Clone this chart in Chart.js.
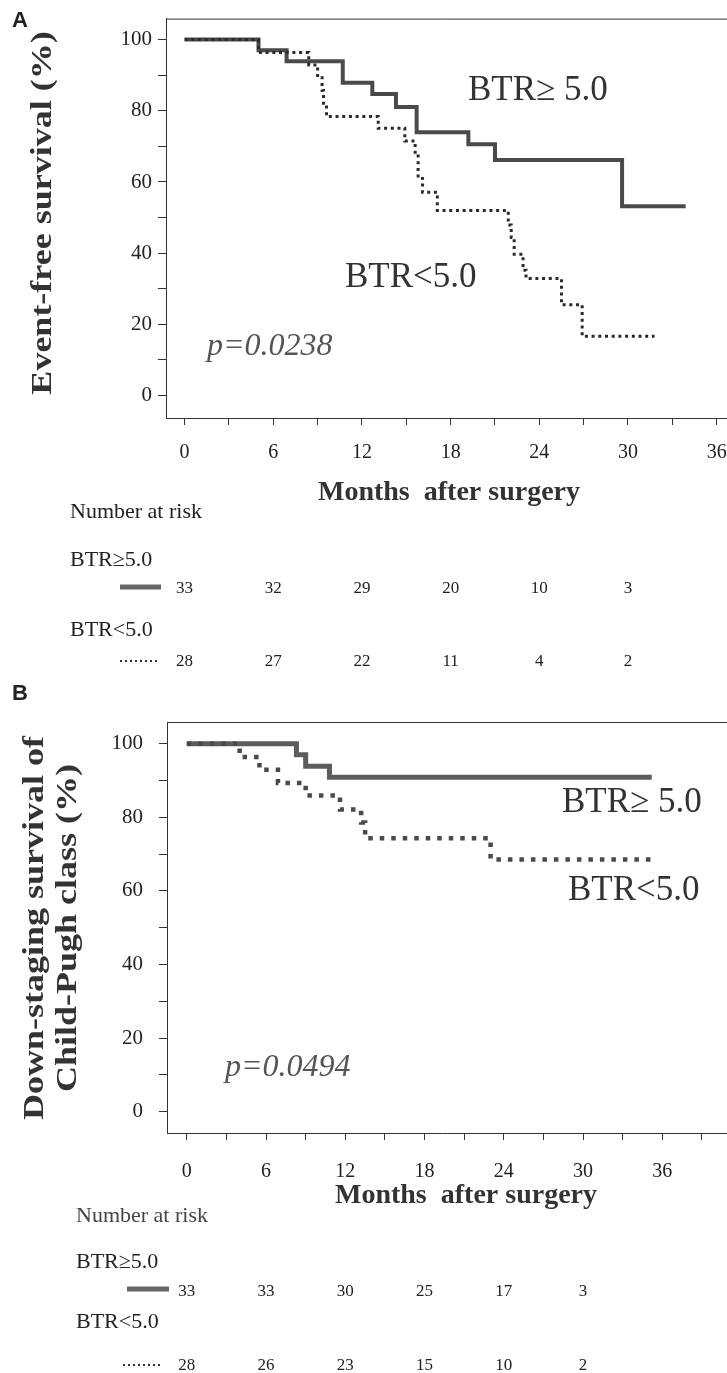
<!DOCTYPE html>
<html>
<head>
<meta charset="utf-8">
<script src="https://cdn.jsdelivr.net/npm/chart.js@4.4.1/dist/chart.umd.min.js"></script>
<style>
  html, body { margin: 0; padding: 0; background: #fff; }
  body { width: 727px; height: 1373px; position: relative; overflow: hidden; }
  canvas { position: absolute; left: 0; }
  #chartA { top: 0; }
  #chartB { top: 680px; }
</style>
</head>
<body>
<canvas id="chartA" width="727" height="680"></canvas>
<canvas id="chartB" width="727" height="693"></canvas>
<script>
const SERIF = '"Liberation Serif", "Times New Roman", serif';
const SANS = '"Liberation Sans", Arial, sans-serif';

// Panel A: event-free survival (step points: month, survival %)
const aHighMonths = [0, 5.0, 6.9, 10.7, 12.7, 14.3, 15.7, 19.2, 21.0, 29.6, 33.9];
const aHighSurv = [100, 97.0, 93.9, 87.9, 84.7, 81.1, 74.0, 70.6, 66.2, 53.2, 53.2];
const aLowMonths = [0, 5.0, 8.4, 9.0, 9.3, 9.4, 9.6, 13.1, 14.9, 15.6, 15.8, 16.1, 17.1, 21.9, 22.1, 22.3, 22.9, 23.1, 25.5, 26.9, 31.8];
const aLowSurv = [100, 96.4, 92.9, 89.3, 85.7, 82.1, 78.4, 75.1, 71.5, 67.9, 61.0, 57.1, 52.0, 47.9, 44.4, 39.7, 35.2, 32.9, 25.5, 16.7, 16.7];

// Panel B: down-staging survival of Child-Pugh class
const bHighMonths = [0, 8.3, 9.0, 10.8, 35.2];
const bHighSurv = [100, 97.0, 93.9, 90.9, 90.9];
const bLowMonths = [0, 4.0, 5.5, 6.9, 9.0, 11.6, 13.2, 13.5, 23.0, 35.2];
const bLowSurv = [100, 96.4, 92.9, 89.3, 85.9, 82.1, 78.6, 74.3, 68.5, 68.5];

// number at risk
const riskMonths = [0, 6, 12, 18, 24, 30];
const aRiskHigh = [33, 32, 29, 20, 10, 3];
const aRiskLow = [28, 27, 22, 11, 4, 2];
const bRiskHigh = [33, 33, 30, 25, 17, 3];
const bRiskLow = [28, 26, 23, 15, 10, 2];

// ticks
const aXTicks = [0, 3, 6, 9, 12, 15, 18, 21, 24, 27, 30, 33, 36];
const bXTicks = [0, 3, 6, 9, 12, 15, 18, 21, 24, 27, 30, 33, 36, 39];
const yTicks = [0, 10, 20, 30, 40, 50, 60, 70, 80, 90, 100];

function pts(xs, ys) {
  return xs.map((x, i) => ({ x, y: ys[i] }));
}

function txt(ctx, s, x, y, font, color, align) {
  ctx.save();
  ctx.font = font;
  ctx.fillStyle = color || "#222";
  ctx.textAlign = align || "left";
  ctx.textBaseline = "alphabetic";
  ctx.fillText(s, x, y);
  ctx.restore();
}

// rotated axis title, stretched along its length like the scanned figure
function vtxt(ctx, s, x, y, font, color) {
  ctx.save();
  ctx.translate(x, y);
  ctx.rotate(-Math.PI / 2);
  ctx.scale(1.2, 1);
  ctx.font = font;
  ctx.fillStyle = color || "#222";
  ctx.textAlign = "center";
  ctx.textBaseline = "middle";
  ctx.fillText(s, 0, 0);
  ctx.restore();
}

function seg(ctx, x1, x2, y, color, width, dash) {
  ctx.save();
  ctx.strokeStyle = color;
  ctx.lineWidth = width;
  ctx.setLineDash(dash || []);
  ctx.beginPath();
  ctx.moveTo(x1, y);
  ctx.lineTo(x2, y);
  ctx.stroke();
  ctx.restore();
}

function riskRow(chart, values, y) {
  const sx = chart.scales.x;
  values.forEach((v, i) => {
    txt(chart.ctx, String(v), sx.getPixelForValue(riskMonths[i]), y, `17px ${SERIF}`, "#222", "center");
  });
}

function kmChart(id, c) {
  return new Chart(document.getElementById(id), {
    type: "line",
    data: {
      datasets: [
        {
          data: pts(c.lowMonths, c.lowSurv),
          borderColor: c.dotColor,
          borderWidth: c.dotWidth,
          borderDash: c.dotDash,
          borderCapStyle: "butt",
          stepped: "before",
          pointRadius: 0,
          fill: false,
        },
        {
          data: pts(c.highMonths, c.highSurv),
          borderColor: c.solidColor,
          borderWidth: c.solidWidth,
          stepped: "before",
          pointRadius: 0,
          fill: false,
        },
      ],
    },
    options: {
      responsive: false,
      animation: false,
      devicePixelRatio: 1,
      layout: { padding: { left: 0, right: 0, top: c.top, bottom: 0 } },
      plugins: { legend: { display: false }, tooltip: { enabled: false } },
      scales: {
        x: {
          type: "linear",
          min: c.xMin,
          max: c.xMax,
          afterBuildTicks: (s) => { s.ticks = c.xTicks.map((v) => ({ value: v })); },
          afterFit: (s) => {
            s.height = c.xHeight;
            s.paddingLeft = 0;
            s.paddingRight = 0;
          },
          grid: { drawOnChartArea: false, drawTicks: true, tickLength: 7, color: "#333" },
          border: { display: true, color: "#333", width: 1 },
          ticks: {
            autoSkip: false,
            maxRotation: 0,
            padding: c.xPad,
            color: "#222",
            font: { family: SERIF, size: 20 },
            callback: (v) => (v % 6 === 0 && v <= 36 ? String(v) : ""),
          },
        },
        y: {
          type: "linear",
          min: c.yMin,
          max: c.yMax,
          afterBuildTicks: (s) => { s.ticks = yTicks.map((v) => ({ value: v })); },
          afterFit: (s) => { s.width = c.yWidth; },
          grid: { drawOnChartArea: false, drawTicks: true, tickLength: 8, color: "#333" },
          border: { display: true, color: "#333", width: 1 },
          ticks: {
            autoSkip: false,
            padding: c.yPad,
            color: "#222",
            font: { family: SERIF, size: 21 },
            callback: (v) => (v % 20 === 0 ? String(v) : ""),
          },
        },
      },
    },
    plugins: [
      {
        id: "frameAndText",
        afterDraw(chart) {
          const a = chart.chartArea;
          seg(chart.ctx, a.left, a.right, a.top + 0.5, "#333", 1);
          c.decorate(chart, chart.ctx);
        },
      },
    ],
  });
}

kmChart("chartA", {
  highMonths: aHighMonths, highSurv: aHighSurv,
  lowMonths: aLowMonths, lowSurv: aLowSurv,
  solidColor: "#4a4a4a", solidWidth: 4,
  dotColor: "#2a2a2a", dotWidth: 3, dotDash: [3, 3.7],
  xMin: -1.26, xMax: 36.7, yMin: -6.3, yMax: 105.9,
  top: 8, yWidth: 166, xHeight: 262, xPad: 16, yPad: 6,
  xTicks: aXTicks,
  decorate(chart, ctx) {
    txt(ctx, "A", 12, 27, `bold 22px ${SANS}`, "#222");
    vtxt(ctx, "Event-free survival (%)", 43, 213, `bold 30px ${SERIF}`, "#333");
    txt(ctx, "BTR\u2265 5.0", 468, 100, `35px ${SERIF}`, "#333");
    txt(ctx, "BTR<5.0", 345, 287, `35px ${SERIF}`, "#333");
    txt(ctx, "p=0.0238", 207, 355, `italic 32px ${SERIF}`, "#555");
    txt(ctx, "Months  after surgery", 449, 500, `bold 28px ${SERIF}`, "#333", "center");
    txt(ctx, "Number at risk", 70, 518, `22px ${SERIF}`, "#222");
    txt(ctx, "BTR\u22655.0", 70, 566, `22px ${SERIF}`, "#222");
    seg(ctx, 120, 161, 587, "#666", 5);
    riskRow(chart, aRiskHigh, 593);
    txt(ctx, "BTR<5.0", 70, 636, `22px ${SERIF}`, "#222");
    seg(ctx, 120, 160, 661, "#333", 2, [2, 3]);
    riskRow(chart, aRiskLow, 666);
  },
});

kmChart("chartB", {
  highMonths: bHighMonths, highSurv: bHighSurv,
  lowMonths: bLowMonths, lowSurv: bLowSurv,
  solidColor: "#5c5c5c", solidWidth: 5,
  dotColor: "#4a4a4a", dotWidth: 4.5, dotDash: [4.5, 7],
  xMin: -1.5, xMax: 40.9, yMin: -5.8, yMax: 105.9,
  top: 42, yWidth: 167, xHeight: 693 - 453, xPad: 20, yPad: 16,
  xTicks: bXTicks,
  decorate(chart, ctx) {
    txt(ctx, "B", 12, 20, `bold 22px ${SANS}`, "#222");
    vtxt(ctx, "Down-staging survival of", 35, 248, `bold 30px ${SERIF}`, "#333");
    vtxt(ctx, "Child-Pugh class (%)", 68, 248, `bold 30px ${SERIF}`, "#333");
    txt(ctx, "BTR\u2265 5.0", 562, 132, `35px ${SERIF}`, "#333");
    txt(ctx, "BTR<5.0", 568, 220, `35px ${SERIF}`, "#333");
    txt(ctx, "p=0.0494", 225, 396, `italic 32px ${SERIF}`, "#555");
    txt(ctx, "Months  after surgery", 466, 523, `bold 28px ${SERIF}`, "#333", "center");
    txt(ctx, "Number at risk", 76, 542, `22px ${SERIF}`, "#444");
    txt(ctx, "BTR\u22655.0", 76, 588, `22px ${SERIF}`, "#222");
    seg(ctx, 127, 169, 609, "#666", 5);
    riskRow(chart, bRiskHigh, 616);
    txt(ctx, "BTR<5.0", 76, 648, `22px ${SERIF}`, "#222");
    seg(ctx, 123, 160, 685, "#333", 2, [2, 3]);
    riskRow(chart, bRiskLow, 690);
  },
});
</script>
</body>
</html>
